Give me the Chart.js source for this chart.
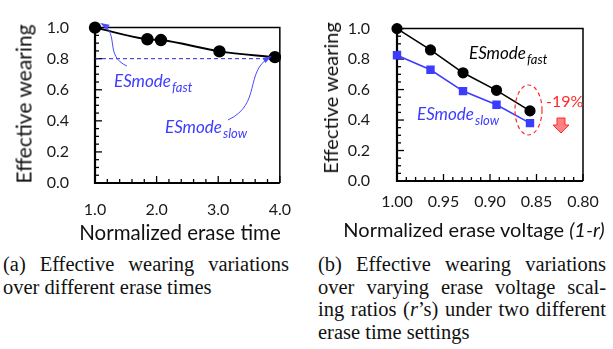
<!DOCTYPE html>
<html><head><meta charset="utf-8">
<script src="https://cdn.jsdelivr.net/npm/chart.js@4"></script>
<style>
html,body{margin:0;padding:0;background:#fff;width:613px;height:349px;overflow:hidden;}
.c{position:absolute;}
.t{position:absolute;font-family:Lato,'Open Sans',sans-serif;color:#111;white-space:nowrap;transform:translate(-50%,-50%);}
.cap{position:absolute;font-family:'Liberation Serif','Times New Roman',serif;font-size:20.5px;line-height:22.5px;color:#111;}
.cap div{text-align:justify;text-align-last:justify;white-space:nowrap;}
.cap div.last{text-align-last:left;}
</style></head><body>
<div class="c" style="left:0;top:0"><canvas id="ca" width="300" height="223"></canvas></div>
<div class="c" style="left:300px;top:0"><canvas id="cb" width="313" height="221"></canvas></div>
<div class="t" style="left:23px;top:104px;font-size:21px;transform:translate(-50%,-50%) rotate(-90deg)">Effective wearing</div>
<div class="t" style="left:330px;top:98px;font-size:20px;transform:translate(-50%,-50%) rotate(-90deg)">Effective wearing</div>
<div class="t" style="left:180px;top:232px;font-size:20.5px">Normalized erase time</div>
<div class="t" style="left:474px;top:229px;font-size:20px">Normalized erase voltage <i>(1-r)</i></div>
<div class="cap" style="left:3px;top:253px;width:286px">
<div>(a) Effective wearing variations</div>
<div class="last">over different erase times</div>
</div>
<div class="cap" style="left:318px;top:253px;width:288px">
<div>(b) Effective wearing variations</div>
<div>over varying erase voltage scal-</div>
<div>ing ratios (<i>r</i>’s) under two different</div>
<div class="last">erase time settings</div>
</div>
<script>
// ---- data ----
const timeX = [1.0, 1.85, 2.07, 3.02, 3.92];
const wearA = [1.0, 0.925, 0.92, 0.847, 0.81];
const slowLevel = 0.80;
const voltX = [1.0, 0.964, 0.929, 0.893, 0.857];
const wearFast = [1.0, 0.86, 0.71, 0.595, 0.46];
const wearSlow = [0.825, 0.73, 0.59, 0.50, 0.38];
const timeTicks = [1, 4, 1];      // min, max, step
const voltTicks = [0.8, 1.0, 0.05];
const wearTicks = [0, 1, 0.2];

const BLUE = '#3c3cff';
const RED = '#ff2a2a';
const TICKFONT = {family:'Lato', size:16};

function frame(cfg){
  return {
    id:'frame',
    beforeDatasetsDraw(chart){
      const {ctx, chartArea:a, scales:{x,y}} = chart;
      ctx.save();
      ctx.strokeStyle = '#000';
      ctx.lineWidth = 1.3;
      const drawT = (sc, min, step, n, every, horiz) => {
        for (let i=0;i<=n;i++){
          const v = min + i*step;
          const p = sc.getPixelForValue(v);
          const L = (i % every === 0) ? 7 : 4;
          ctx.beginPath();
          if (horiz){ ctx.moveTo(p, a.bottom); ctx.lineTo(p, a.bottom - L); }
          else { ctx.moveTo(a.left, p); ctx.lineTo(a.left + L, p); }
          ctx.stroke();
        }
      };
      drawT(x, cfg.x[0], cfg.x[1], cfg.x[2], cfg.x[3], true);
      drawT(y, cfg.y[0], cfg.y[1], cfg.y[2], cfg.y[3], false);
      ctx.lineWidth = 1.5;
      ctx.beginPath(); ctx.moveTo(a.left, a.top); ctx.lineTo(a.right, a.top); ctx.lineTo(a.right, a.bottom); ctx.stroke();
      ctx.lineWidth = 2.2;
      ctx.beginPath(); ctx.moveTo(a.left, a.top); ctx.lineTo(a.left, a.bottom); ctx.lineTo(a.right, a.bottom); ctx.stroke();
      if (cfg.before) cfg.before(chart);
      ctx.restore();
    },
    afterDatasetsDraw(chart){ if (cfg.after){ chart.ctx.save(); cfg.after(chart); chart.ctx.restore(); } }
  };
}

function subText(ctx, x, y, main, sub, color, size){
  ctx.fillStyle = color; ctx.textAlign='left'; ctx.textBaseline='alphabetic';
  ctx.font = `italic ${size}px Lato`;
  ctx.fillText(main, x, y);
  const w = ctx.measureText(main).width;
  ctx.font = `italic ${Math.round(size*0.75)}px Lato`;
  ctx.fillText(sub, x + w + 1, y + 5);
}
function curveArrow(ctx, p0, c1, c2, p1, color){
  ctx.strokeStyle = color; ctx.fillStyle = color; ctx.lineWidth = 1;
  ctx.beginPath(); ctx.moveTo(p0[0],p0[1]); ctx.bezierCurveTo(c1[0],c1[1],c2[0],c2[1],p1[0],p1[1]); ctx.stroke();
  const ang = Math.atan2(p1[1]-c2[1], p1[0]-c2[0]);
  const L = 7, W = 3;
  ctx.beginPath();
  ctx.moveTo(p1[0]+Math.cos(ang)*2, p1[1]+Math.sin(ang)*2);
  ctx.lineTo(p1[0]-Math.cos(ang)*L - Math.sin(ang)*W, p1[1]-Math.sin(ang)*L + Math.cos(ang)*W);
  ctx.lineTo(p1[0]-Math.cos(ang)*L + Math.sin(ang)*W, p1[1]-Math.sin(ang)*L - Math.cos(ang)*W);
  ctx.closePath(); ctx.fill();
}

function baseOpts(padding, xw, yw, xPad, yPad, xT, yT, fmtX, reverse){
  return {
    responsive:false, animation:false, events:[],
    layout:{padding},
    plugins:{legend:{display:false}, tooltip:{enabled:false}},
    scales:{
      x:{type:'linear', min:xT[0], max:xT[1], reverse:!!reverse,
         grid:{display:false}, border:{display:false},
         ticks:{stepSize:xT[2], padding:xPad, color:'#1a1a1a', font:TICKFONT, maxRotation:0, autoSkip:false,
                callback:v=>Number(v).toFixed(fmtX)},
         afterFit:s=>{s.height = xw;}},
      y:{type:'linear', min:yT[0], max:yT[1],
         grid:{display:false}, border:{display:false},
         ticks:{stepSize:yT[2], padding:yPad, color:'#1a1a1a', font:TICKFONT,
                callback:v=>Number(v).toFixed(1)},
         afterFit:s=>{s.width = yw;}}
    }
  };
}

// ---- chart (a) ----
new Chart(document.getElementById('ca'), {
  type:'scatter',
  data:{datasets:[{
    data: timeX.map((x,i)=>({x, y:wearA[i]})),
    showLine:true, borderColor:'#000', borderWidth:2, backgroundColor:'#000',
    pointRadius:5.2, pointHoverRadius:5.2, cubicInterpolationMode:'monotone', clip:false
  }]},
  options: baseOpts({top:19,right:20,left:0,bottom:0}, 40, 95, 9, 18, timeTicks, wearTicks, 1),
  plugins:[frame({
    x:[1, 0.2, 15, 5], y:[0, 0.05, 20, 4],
    before(chart){
      const {ctx, chartArea:a, scales:{y}} = chart;
      const py = y.getPixelForValue(slowLevel);
      ctx.strokeStyle = '#2a2ad8'; ctx.lineWidth = 1; ctx.setLineDash([4,3]);
      ctx.beginPath(); ctx.moveTo(a.left, py); ctx.lineTo(a.right, py); ctx.stroke();
      ctx.setLineDash([]);
    },
    after(chart){
      const ctx = chart.ctx;
      subText(ctx, 114, 87, 'ESmode', 'fast', BLUE, 17);
      subText(ctx, 165, 133, 'ESmode', 'slow', BLUE, 17);
      curveArrow(ctx, [127,66], [104,56], [120,34], [102,24], '#4a4aff');
      curveArrow(ctx, [228,120], [262,104], [244,72], [270,57], '#4a4aff');
    }
  })]
});

// ---- chart (b) ----
new Chart(document.getElementById('cb'), {
  type:'scatter',
  data:{datasets:[
    {data: voltX.map((x,i)=>({x, y:wearFast[i]})), showLine:true, borderColor:'#000', borderWidth:1.6,
     backgroundColor:'#000', pointRadius:4.8, pointHoverRadius:4.8, tension:0, clip:false},
    {data: voltX.map((x,i)=>({x, y:wearSlow[i]})), showLine:true, borderColor:BLUE, borderWidth:1.6,
     backgroundColor:BLUE, pointStyle:'rect', pointRadius:4.8, pointHoverRadius:4.8, tension:0, clip:false}
  ]},
  options: baseOpts({top:16,right:30,left:0,bottom:0}, 40, 97, 3, 19, voltTicks, wearTicks, 2, true),
  plugins:[frame({
    x:[0.8, 0.01, 20, 5], y:[0, 0.05, 20, 4],
    after(chart){
      const ctx = chart.ctx;
      const ox = -300;
      subText(ctx, 469+ox, 59, 'ESmode', 'fast', '#000', 17);
      subText(ctx, 417+ox, 120, 'ESmode', 'slow', BLUE, 17);
      ctx.strokeStyle = RED; ctx.lineWidth = 1.2; ctx.setLineDash([4,3]);
      ctx.beginPath(); ctx.ellipse(528.5+ox, 110, 13.5, 25, 0, 0, Math.PI*2); ctx.stroke();
      ctx.setLineDash([]);
      ctx.fillStyle = RED; ctx.font = '16px Lato'; ctx.textAlign='left'; ctx.textBaseline='middle';
      ctx.fillText('-19%', 546+ox, 102);
      const cx = 561+ox, t = 118;
      ctx.beginPath();
      ctx.moveTo(cx-4, t); ctx.lineTo(cx+4, t); ctx.lineTo(cx+4, t+7); ctx.lineTo(cx+8, t+7);
      ctx.lineTo(cx, t+15); ctx.lineTo(cx-8, t+7); ctx.lineTo(cx-4, t+7); ctx.closePath();
      ctx.fillStyle = '#ff8080'; ctx.fill(); ctx.strokeStyle = RED; ctx.lineWidth = 1; ctx.stroke();
    }
  })]
});
</script>
</body></html>
